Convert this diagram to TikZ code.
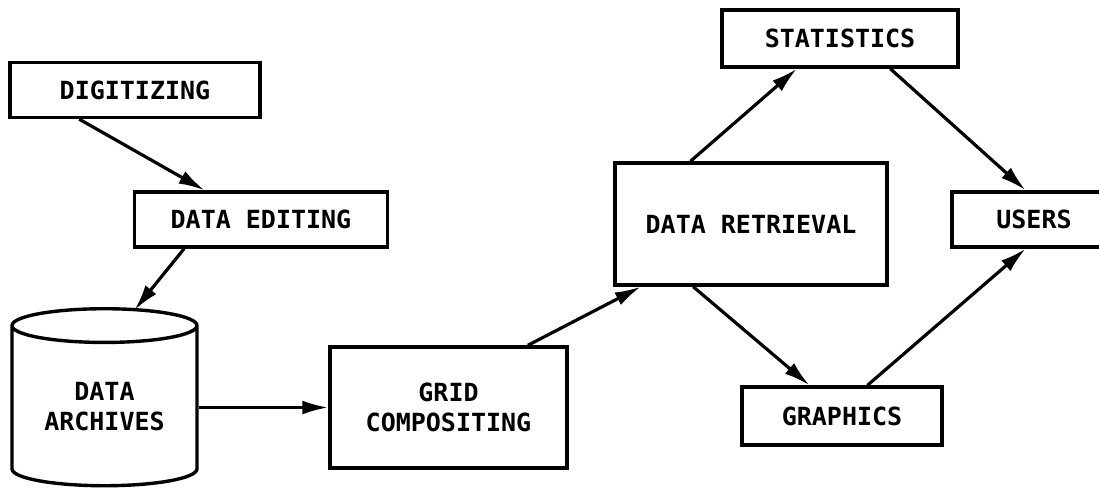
\documentclass[tikz,border=0pt]{standalone}
\usepackage{fontspec}
\newfontfamily\boxfont{DejaVu Sans Mono}
\usetikzlibrary{calc,arrows.meta,shapes.geometric}

\begin{document}
\begin{tikzpicture}[x=1pt,y=-1pt,every node/.style={font=\boxfont\bfseries\fontsize{25}{30}\selectfont},
          stage/.style={draw,line width=3.4pt,align=center,inner sep=0pt},
          store/.style={stage,cylinder,shape border rotate=90,aspect=0.28},
          flow/.style={-{Latex[length=26pt,width=14pt]},line width=3.2pt}]
        \useasboundingbox (0,0) rectangle (1099,499);
        \node[stage,minimum width=250pt,minimum height=55pt] (dig) at (135,90) {DIGITIZING};
        \node[stage,minimum width=253pt,minimum height=55pt] (edit) at (261,219.5) {DATA EDITING};
        \node[store,minimum width=185pt,minimum height=177pt] (arch) at (104.5,406.5) {DATA\\ARCHIVES};
        \node[stage,minimum width=237pt,minimum height=121pt] (grid) at (448.5,407.5) {GRID\\COMPOSITING};
        \node[stage,minimum width=272pt,minimum height=122pt] (ret) at (751,224) {DATA RETRIEVAL};
        \node[stage,minimum width=236pt,minimum height=57pt] (stat) at (840,38.5) {STATISTICS};
        \node[stage,minimum width=164pt,minimum height=55pt] (users) at (1034,219.5) {USERS};
        \node[stage,minimum width=200pt,minimum height=58pt] (graph) at (842,416) {GRAPHICS};
        \coordinate (archtop) at ($(arch.north)+(30,3)$);
        \draw[flow] ($(dig.south west)!0.28!(dig.south east)$) -- ($(edit.north west)!0.28!(edit.north east)$);
        \draw[flow] ($(edit.south west)!0.2!(edit.south east)$) -- (archtop);
        \draw[flow] (arch.east |- grid.west) -- (grid.west);
        \draw[flow] ($(grid.north west)!0.83!(grid.north east)$) -- ($(ret.south west)!0.1!(ret.south east)$);
        \draw[flow] ($(ret.north west)!0.28!(ret.north east)$) -- ($(stat.south west)!0.32!(stat.south east)$);
        \draw[flow] ($(stat.south west)!0.71!(stat.south east)$) -- ($(users.north west)!0.45!(users.north east)$);
        \draw[flow] ($(ret.south west)!0.29!(ret.south east)$) -- ($(graph.north west)!0.34!(graph.north east)$);
        \draw[flow] ($(graph.north west)!0.625!(graph.north east)$) -- ($(users.south west)!0.45!(users.south east)$);
      \end{tikzpicture}
\end{document}
